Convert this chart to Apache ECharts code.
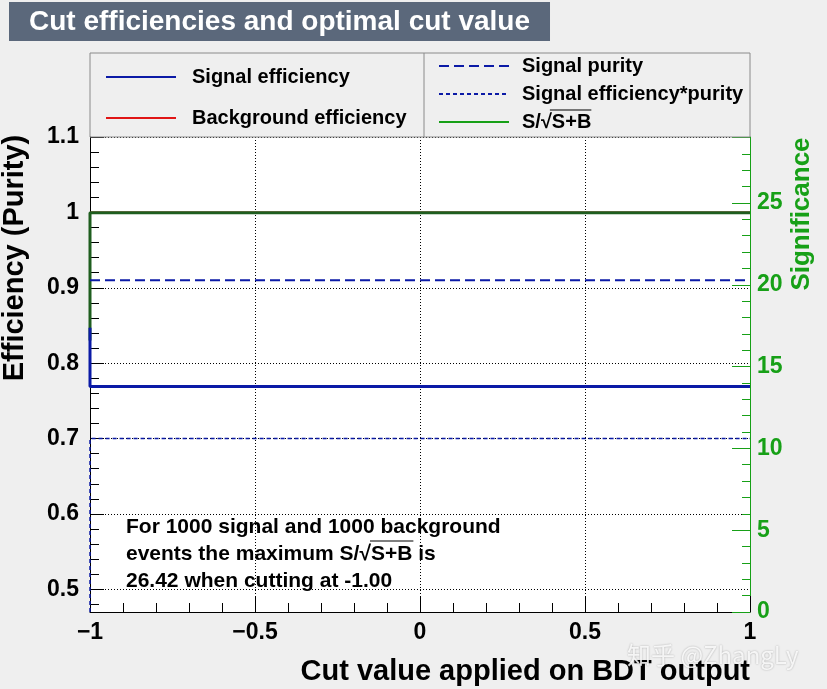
<!DOCTYPE html>
<html>
<head>
<meta charset="utf-8">
<script src="https://cdn.jsdelivr.net/npm/echarts@6/dist/echarts.min.js"></script>
<style>
html,body{margin:0;padding:0;background:#efefef;}
#chart{width:827px;height:689px;}
</style>
</head>
<body>
<div id="chart"></div>
<script>
// ---- data ----
const titleText = 'Cut efficiencies and optimal cut value';
const xTitle = 'Cut value applied on BDT output';
const yTitle = 'Efficiency (Purity)';
const y2Title = 'Significance';
const seriesNames = ['Signal efficiency', 'Background efficiency', 'Signal purity', 'Signal efficiency*purity', 'S/\u221AS+B'];
const sigEffX = [-1, -1, 1];
const sigEffY = [0.847, 0.769, 0.769];
const bkgEffX = [-1, 1];
const bkgEffY = [1.0, 1.0];
const purityX = [-1, 1];
const purityY = [0.91, 0.91];
const effPurX = [-1, -1, 1];
const effPurY = [0.47, 0.70, 0.70];
const signifX = [-1, -1, 1];
const signifY = [16.6, 24.4, 24.4];
const annotation = ['For 1000 signal and 1000 background', 'events the maximum S/\u221AS+B is', '26.42 when cutting at -1.00'];

const zip = (xs, ys) => xs.map((x, i) => [x, ys[i]]);
const FONT = '"Liberation Sans", Arial, sans-serif';
const BLUE = '#0b1aa6';
const RED = '#e01515';
const GREEN = '#17a017';

// text measuring for the sqrt overline decorations
const mctx = document.createElement('canvas').getContext('2d');
function tw(str, font) { mctx.font = font; return mctx.measureText(str).width; }

const annFontSize = 21;
const annFont = 'bold ' + annFontSize + 'px ' + FONT;
const annX = 126, annY = 554, annLH = 27;   // annY = centre of the middle line
const ann2Prefix = 'events the maximum S/\u221A';
const annOvX1 = annX + tw(ann2Prefix, annFont) - 1;
const annOvX2 = annX + tw(ann2Prefix + 'S+B', annFont) + 1;
const annOvY = annY - 13;

const legFontSize = 20;
const legFont = 'bold ' + legFontSize + 'px ' + FONT;
const legTextX = 521, legTextY = 122;
const legOvX1 = legTextX + tw('S/\u221A', legFont) - 1;
const legOvX2 = legTextX + tw('S/\u221AS+B', legFont) + 1;
const legOvY = legTextY - 12;

const chart = echarts.init(document.getElementById('chart'));
const option = {
  backgroundColor: '#efefef',
  animation: false,
  title: {
    text: titleText, left: 9, top: 2,
    backgroundColor: '#5b687b', padding: [6, 20, 5, 20],
    textStyle: { color: '#fff', fontFamily: FONT, fontWeight: 'bold', fontSize: 28 }
  },
  grid: { left: 90, right: 77, top: 137, bottom: 77, show: true, backgroundColor: '#fff', borderWidth: 0 },
  legend: [
    {
      data: [seriesNames[0], seriesNames[1]], orient: 'vertical', left: 105, top: 67, padding: 0,
      itemWidth: 70, itemHeight: 20, itemGap: 21,
      itemStyle: { opacity: 0 },
      textStyle: { fontFamily: FONT, fontWeight: 'bold', fontSize: legFontSize, lineHeight: 20, color: '#000', padding: [0, 0, 0, 11] }
    },
    {
      data: [seriesNames[2], seriesNames[3], { name: seriesNames[4], lineStyle: { color: GREEN } }],
      orient: 'vertical', left: 438, top: 56, padding: 0,
      itemWidth: 70, itemHeight: 20, itemGap: 8,
      itemStyle: { opacity: 0 },
      textStyle: { fontFamily: FONT, fontWeight: 'bold', fontSize: legFontSize, lineHeight: 20, color: '#000', padding: [0, 0, 0, 8] }
    }
  ],
  xAxis: {
    type: 'value', min: -1, max: 1, interval: 0.5,
    axisLine: { onZero: false, lineStyle: { color: '#000', width: 1 } },
    axisTick: { inside: true, length: 16, lineStyle: { color: '#000' } },
    minorTick: { show: true, splitNumber: 5, length: 9, lineStyle: { color: '#000' } },
    splitLine: { show: true, lineStyle: { color: '#000', type: [1, 2], width: 1 } },
    axisLabel: {
      margin: 9, color: '#000', fontFamily: FONT, fontWeight: 'bold', fontSize: 23,
      formatter: v => (v < 0 ? '\u2212' : '') + Math.abs(v)
    }
  },
  yAxis: [
    {
      type: 'value', min: 0.47, max: 1.1, splitNumber: 6,
      axisLine: { show: true, onZero: false, lineStyle: { color: '#000', width: 1 } },
      axisTick: { show: true, inside: true, length: 14, lineStyle: { color: '#000' } },
      minorTick: { show: true, splitNumber: 5, length: 9, lineStyle: { color: '#000' } },
      splitLine: { show: true, lineStyle: { color: '#000', type: [1, 2], width: 1 } },
      axisLabel: { showMinLabel: false, margin: 11, color: '#000', fontFamily: FONT, fontWeight: 'bold', fontSize: 23 }
    },
    {
      type: 'value', min: 0, max: 29.03, interval: 5, position: 'right',
      axisLine: { show: true, onZero: false, lineStyle: { color: GREEN, width: 1 } },
      axisTick: { show: true, inside: true, length: 18, lineStyle: { color: GREEN } },
      minorTick: { show: true, splitNumber: 5, length: 8, lineStyle: { color: GREEN } },
      splitLine: { show: false },
      axisLabel: { showMaxLabel: false, margin: 7, color: GREEN, fontFamily: FONT, fontWeight: 'bold', fontSize: 23 }
    }
  ],
  series: [
    { name: seriesNames[1], type: 'line', symbol: 'none', data: zip(bkgEffX, bkgEffY), lineStyle: { color: RED, width: 2 }, itemStyle: { color: RED } },
    { name: seriesNames[4], type: 'line', yAxisIndex: 1, symbol: 'none', data: zip(signifX, signifY), lineStyle: { color: '#1f5e1f', width: 3 }, itemStyle: { color: GREEN } },
    { name: seriesNames[2], type: 'line', symbol: 'none', data: zip(purityX, purityY), lineStyle: { color: BLUE, width: 2, type: [10, 5] }, itemStyle: { color: BLUE } },
    { name: seriesNames[3], type: 'line', symbol: 'none', data: zip(effPurX, effPurY), lineStyle: { color: BLUE, width: 1.5, type: [4, 3] }, itemStyle: { color: BLUE } },
    { name: seriesNames[0], type: 'line', symbol: 'none', data: zip(sigEffX, sigEffY), lineStyle: { color: BLUE, width: 3 }, itemStyle: { color: BLUE } }
  ],
  graphic: [
    { type: 'rect', silent: true, z: 1, shape: { x: 90, y: 53, width: 660, height: 84 }, style: { fill: 'none', stroke: '#8a8a8a', lineWidth: 1 } },
    { type: 'line', silent: true, z: 1, shape: { x1: 424, y1: 53, x2: 424, y2: 137 }, style: { stroke: '#8a8a8a', lineWidth: 1 } },
    { type: 'text', silent: true, z: 10, x: 15, y: 258, rotation: Math.PI / 2,
      style: { text: yTitle, fill: '#000', font: 'bold 29px ' + FONT, align: 'center', verticalAlign: 'middle' } },
    { type: 'text', silent: true, z: 10, x: 802, y: 214, rotation: Math.PI / 2,
      style: { text: y2Title, fill: GREEN, font: 'bold 26px ' + FONT, align: 'center', verticalAlign: 'middle' } },
    { type: 'text', silent: true, z: 10, x: 750, y: 672,
      style: { text: xTitle, fill: '#000', font: 'bold 29px ' + FONT, align: 'right', verticalAlign: 'middle' } },
    { type: 'text', silent: true, z: 10, x: annX, y: annY,
      style: { text: annotation.join('\n'), fill: '#000', font: annFont, lineHeight: annLH, align: 'left', verticalAlign: 'middle' } },
    { type: 'line', silent: true, z: 10, shape: { x1: annOvX1, y1: annOvY, x2: annOvX2, y2: annOvY }, style: { stroke: '#000', lineWidth: 1.2 } },
    { type: 'line', silent: true, z: 10, shape: { x1: legOvX1, y1: legOvY, x2: legOvX2, y2: legOvY }, style: { stroke: '#000', lineWidth: 1.2 } },
    { type: 'text', silent: true, z: 20, x: 627, y: 655,
      style: { text: '知乎 @ZhangLy', fill: 'rgba(255,255,255,0.85)', font: '24px "Noto Sans CJK SC", sans-serif',
        verticalAlign: 'middle', textShadowColor: 'rgba(0,0,0,0.35)', textShadowBlur: 2 } }
  ]
};
chart.setOption(option);
</script>
</body>
</html>
